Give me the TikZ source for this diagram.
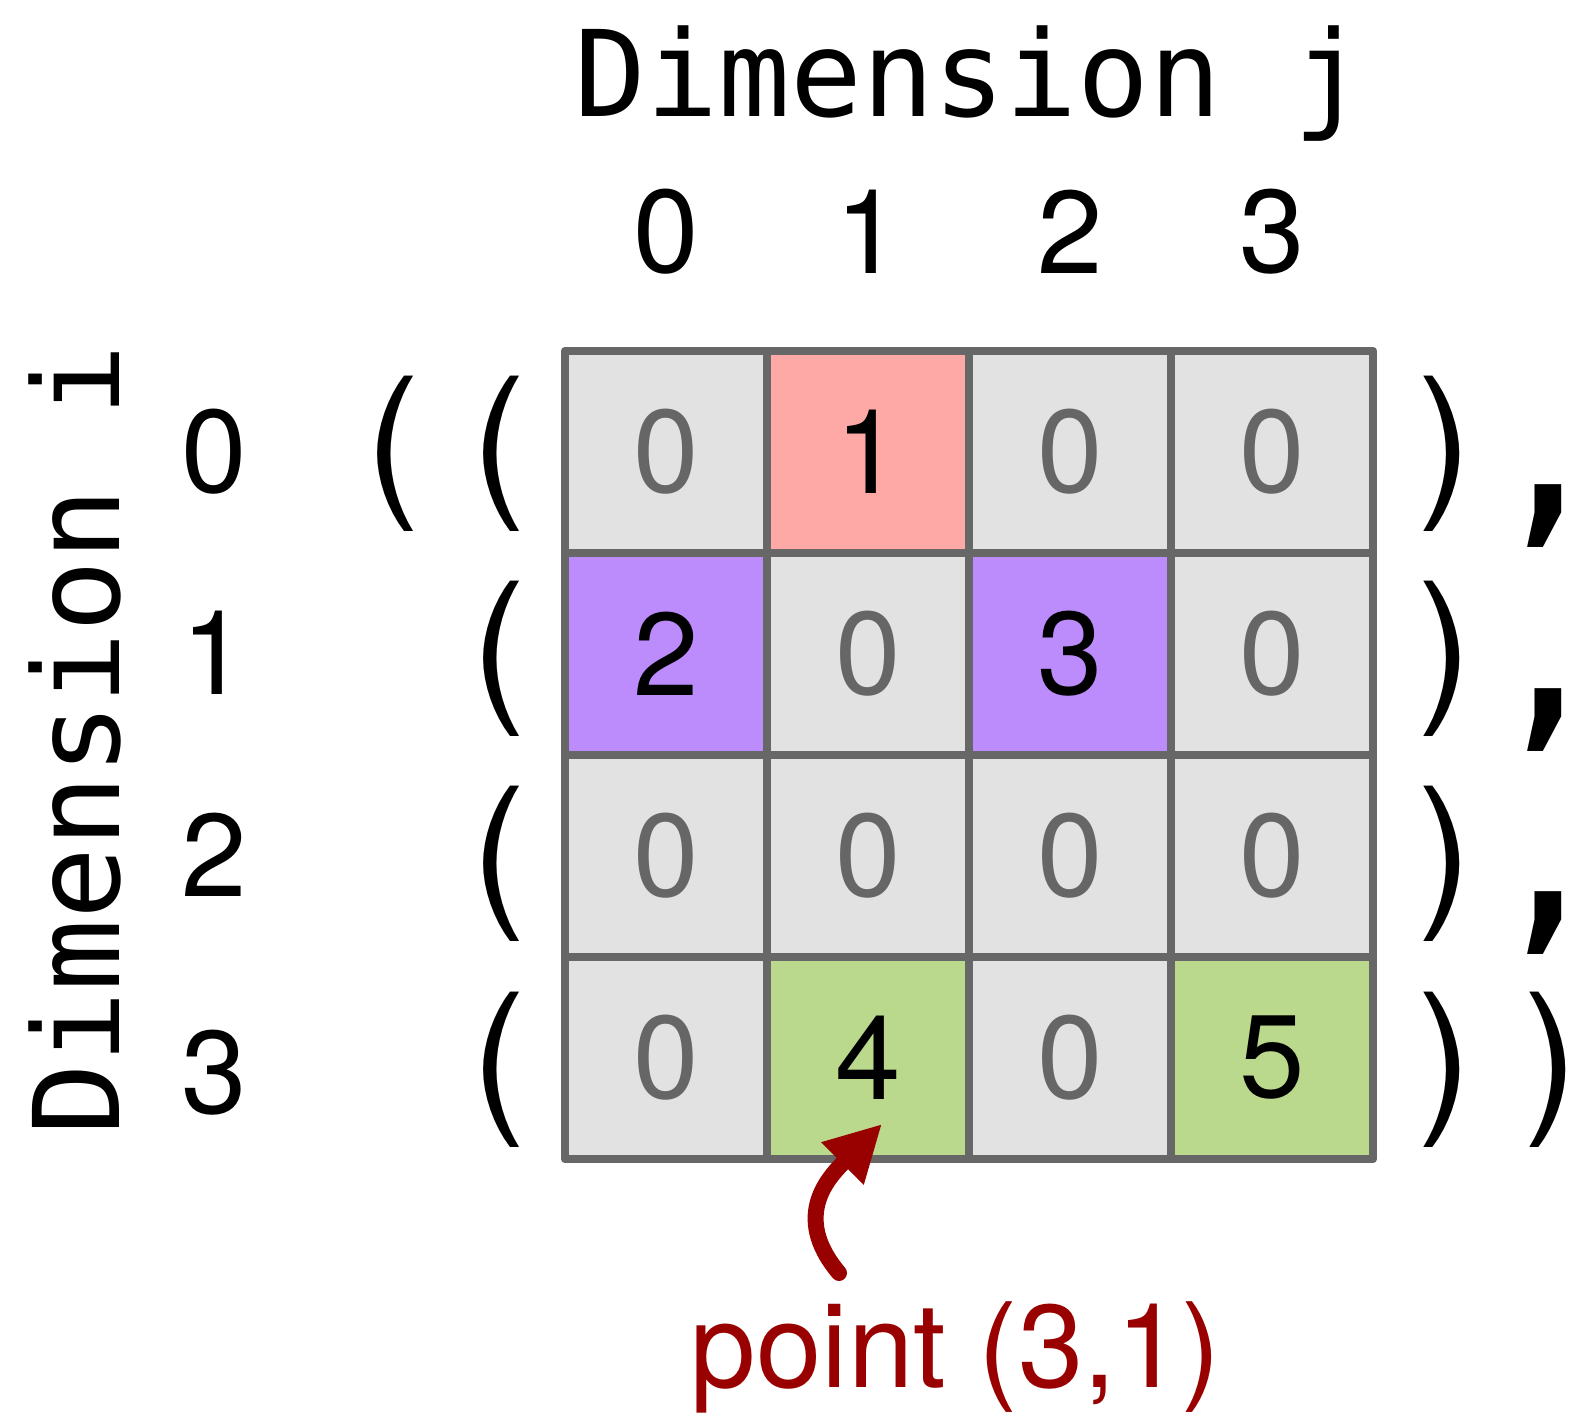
\documentclass[tikz,border=0pt]{standalone}
\usepackage{fontspec}
\setmainfont{TeX Gyre Heros}
\setmonofont{DejaVu Sans Mono}
\newfontfamily\commafont{DejaVu Sans}
\usetikzlibrary{arrows.meta}
\definecolor{gridgray}{RGB}{103,103,103}
\definecolor{cellgray}{RGB}{226,226,226}
\definecolor{zerogray}{RGB}{102,102,102}
\definecolor{hitpink}{RGB}{254,169,166}
\definecolor{hitpurple}{RGB}{188,140,252}
\definecolor{hitgreen}{RGB}{186,217,140}
\definecolor{darkred}{RGB}{153,0,0}

\begin{document}
\begin{tikzpicture}[x=0.1mm,y=-0.1mm]
\tikzstyle{every node}=[inner sep=0,outer sep=0]
\tikzstyle{cell}=[draw=gridgray,line width=0.85mm,line join=round,minimum size=20.2mm,font=\fontsize{33.5}{40}\selectfont]
\tikzstyle{zero}=[cell,fill=cellgray,text=zerogray]
\tikzstyle{idx}=[font=\fontsize{33.5}{40}\selectfont]
\tikzstyle{dimlabel}=[font=\ttfamily\fontsize{34}{40}\selectfont]
\tikzstyle{paren}=[font=\fontsize{47}{56}\selectfont]
\tikzstyle{sep}=[xscale=0.8,font=\commafont\bfseries\fontsize{54}{60}\selectfont]
\useasboundingbox (0,0) rectangle (1588,1414);

% axis titles
\node[dimlabel,anchor=base] (dimj) at (970,116.7) {Dimension j};
\node[dimlabel,anchor=base,rotate=90] (dimi) at (119,740) {Dimension i};

% column and row indices
\node[idx] (col0) at (666,231.5) {0};
\node[idx] (col1) at (868,231.5) {1};
\node[idx] (col2) at (1070,231.5) {2};
\node[idx] (col3) at (1272,231.5) {3};
\node[idx] (row0) at (214,452) {0};
\node[idx] (row1) at (214,653) {1};
\node[idx] (row2) at (214,855) {2};
\node[idx] (row3) at (214,1072.5) {3};

% the array
\node[zero] (c00) at (666,452) {0};
\node[cell,fill=hitpink] (c01) at (868,452) {1};
\node[zero] (c02) at (1070,452) {0};
\node[zero] (c03) at (1272,452) {0};
\node[cell,fill=hitpurple] (c10) at (666,654) {2};
\node[zero] (c11) at (868,654) {0};
\node[cell,fill=hitpurple] (c12) at (1070,654) {3};
\node[zero] (c13) at (1272,654) {0};
\node[zero] (c20) at (666,856) {0};
\node[zero] (c21) at (868,856) {0};
\node[zero] (c22) at (1070,856) {0};
\node[zero] (c23) at (1272,856) {0};
\node[zero] (c30) at (666,1058) {0};
\node[cell,fill=hitgreen] (c31) at (868,1058) {4};
\node[zero] (c32) at (1070,1058) {0};
\node[cell,fill=hitgreen] (c33) at (1272,1058) {5};

% brackets
\node[paren] (open) at (393,453.7) {(};
\node[paren] (open0) at (498.6,453.7) {(};
\node[paren] (open1) at (498.6,658.7) {(};
\node[paren] (open2) at (498.6,864) {(};
\node[paren] (open3) at (498.6,1069.5) {(};
\node[paren] (close0) at (1444.5,453.7) {)};
\node[paren] (close1) at (1444.5,658.7) {)};
\node[paren] (close2) at (1444.5,864) {)};
\node[paren] (close3) at (1444.5,1069.5) {)};
\node[paren] (close) at (1550.5,1069.5) {)};
\node[sep] (comma0) at (1548.5,516.4) {,};
\node[sep] (comma1) at (1548.5,720) {,};
\node[sep] (comma2) at (1548.5,923.5) {,};

% pointer to one entry
\node[idx,text=darkred,anchor=base] (pt) at (956,1388) {point (3,1)};
\coordinate (tail) at (839,1273);
\coordinate (target) at (882,1124);
\draw[darkred,line width=1.6mm,line cap=round,-{Triangle[length=5.6mm,width=5.6mm]}] (tail) .. controls +(-49,-58) and +(-51,51) .. (target);
\end{tikzpicture}
\end{document}
